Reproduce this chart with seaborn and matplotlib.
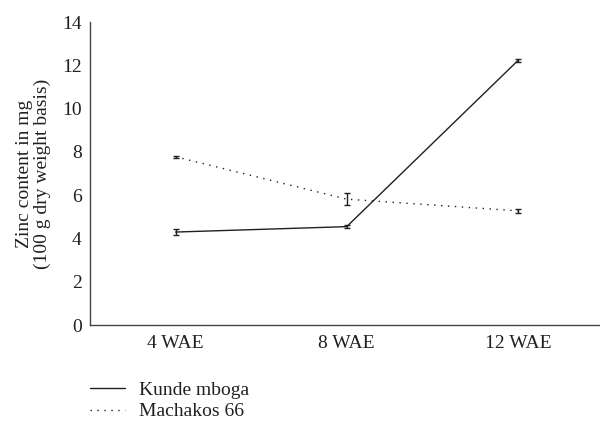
import matplotlib
matplotlib.use('Agg')
import matplotlib.pyplot as plt
import pandas as pd
import seaborn as sns

# Data
stages = ['4 WAE', '8 WAE', '12 WAE']
kunde = [4.3, 4.55, 12.22]
kunde_err = [0.12, 0.07, 0.06]
machakos = [7.78, 5.82, 5.28]
machakos_err = [0.05, 0.28, 0.1]

df = pd.DataFrame({
    'pos': list(range(len(stages))) * 2,
    'Zinc': kunde + machakos,
    'err': kunde_err + machakos_err,
    'Variety': ['Kunde mboga'] * 3 + ['Machakos 66'] * 3,
})

sns.set_style('white')
plt.rcParams['font.family'] = ['Liberation Serif', 'DejaVu Serif']

fig = plt.figure(figsize=(6, 4.25), dpi=100)
ax = fig.add_axes([0.15, 0.235, 0.85, 0.713])

sns.lineplot(data=df, x='pos', y='Zinc', style='Variety',
             dashes={'Kunde mboga': '', 'Machakos 66': (1, 4)},
             color='#231f20', linewidth=1.0, legend=False, ax=ax)
ax.errorbar(df['pos'], df['Zinc'], yerr=df['err'], fmt='none',
            ecolor='#231f20', elinewidth=1.0, capsize=2.5, capthick=1.0)

ax.set_xlim(-0.5, 2.48)
ax.set_ylim(0, 14)
ax.set_yticks(range(0, 15, 2))
ax.set_xticks(range(len(stages)))
ax.set_xticklabels(stages)
ax.tick_params(axis='y', length=0, labelsize=14, colors='#231f20', pad=6)
ax.tick_params(axis='x', length=0, labelsize=14, colors='#231f20', pad=7)
ax.set_xlabel('')
ax.set_ylabel('Zinc content in mg\n(100 g dry weight basis)', fontsize=14,
              color='#231f20', labelpad=8, linespacing=1.05)

sns.despine(ax=ax)
for s in ['left', 'bottom']:
    ax.spines[s].set_color('#444444')
    ax.spines[s].set_linewidth(1.0)

handles = [plt.Line2D([], [], color='#231f20', lw=1.0),
           plt.Line2D([], [], color='#231f20', lw=1.0, dashes=(1, 4))]
fig.legend(handles, ['Kunde mboga', 'Machakos 66'], loc='upper left',
           bbox_to_anchor=(0.15, 0.103), frameon=False, fontsize=14,
           borderpad=0, borderaxespad=0,
           handlelength=1.8, handletextpad=0.7, labelspacing=0.2,
           labelcolor='#231f20')

fig.savefig('out.png', dpi=100)
